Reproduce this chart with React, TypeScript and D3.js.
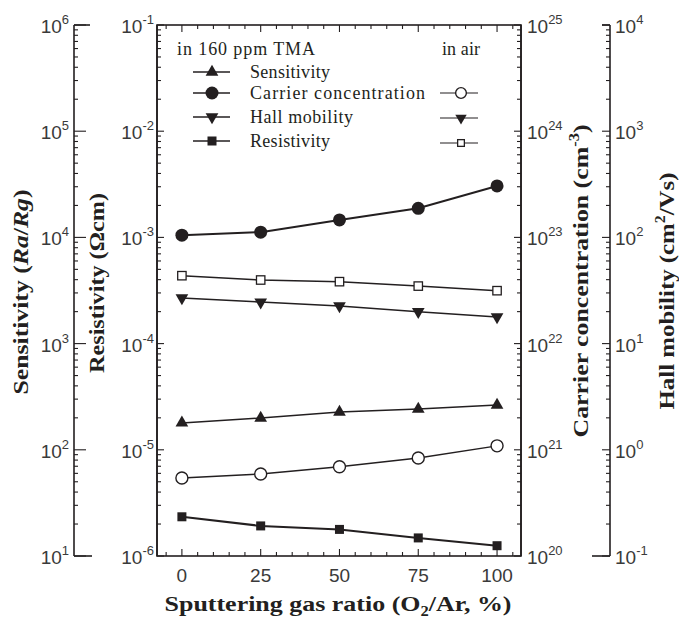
import React from 'react';
import * as d3 from 'd3';

// sputtering gas ratio O2/Ar (%)
const ratios = [0, 25, 50, 75, 100];
const xTickValues = [0, 25, 50, 75, 100];

// in 160 ppm TMA
const sensitivityTma = [179, 199, 227, 242, 264];
const carrierTma = [1.05e23, 1.12e23, 1.46e23, 1.88e23, 3.05e23];
const hallTma = [26.9, 24.6, 22.6, 20.0, 17.8];
const resistivityTma = [2.34e-6, 1.92e-6, 1.78e-6, 1.48e-6, 1.25e-6];

// in air
const carrierAir = [5.42e20, 5.92e20, 6.93e20, 8.37e20, 1.09e21];
const resistivityAir = [4.36e-4, 3.97e-4, 3.83e-4, 3.48e-4, 3.15e-4];

const legendTma = ['Sensitivity', 'Carrier concentration', 'Hall mobility', 'Resistivity'];
const legendWidths = [80, 175, 103, 80];

const W = 679;
const H = 618;
const box = {left: 157, right: 521, top: 25, bottom: 556};
const ink = '#231f20';
const serif = '"Liberation Serif", "Times New Roman", serif';
const sans = '"Liberation Sans", Arial, sans-serif';

const x = d3.scaleLinear().domain([-7.9, 107.6]).range([box.left, box.right]);
const ySens = d3.scaleLog().domain([1e1, 1e6]).range([box.bottom, box.top]);
const yRes = d3.scaleLog().domain([1e-6, 1e-1]).range([box.bottom, box.top]);
const yCar = d3.scaleLog().domain([1e20, 1e25]).range([box.bottom, box.top]);
const yHall = d3.scaleLog().domain([1e-1, 1e4]).range([box.bottom, box.top]);

const sym = (type: d3.SymbolType, size: number) => d3.symbol().type(type).size(size)() || '';

const marker = (kind: string, cx: number, cy: number, scale = 1, key?: any) => {
    switch (kind) {
        case 'up':
            return <path key={key} d={sym(d3.symbolTriangle, 70 * scale)} transform={`translate(${cx},${cy})`} fill={ink}/>;
        case 'down':
            return <path key={key} d={sym(d3.symbolTriangle, 70 * scale)} transform={`translate(${cx},${cy}) rotate(180)`} fill={ink}/>;
        case 'circle':
            return <circle key={key} cx={cx} cy={cy} r={6.5 * Math.sqrt(scale)} fill={ink}/>;
        case 'ocircle':
            return <circle key={key} cx={cx} cy={cy} r={6 * Math.sqrt(scale)} fill="#fff" stroke={ink} strokeWidth={1.4}/>;
        case 'square':
            return <rect key={key} x={cx - 4.5 * scale} y={cy - 4.5 * scale} width={9 * scale} height={9 * scale} fill={ink}/>;
        case 'osquare':
            return <rect key={key} x={cx - 4.2 * scale} y={cy - 4.2 * scale} width={8.4 * scale} height={8.4 * scale} fill="#fff" stroke={ink} strokeWidth={1.3}/>;
        default:
            return null;
    }
};

const series = [
    {values: carrierTma, scale: yCar, kind: 'circle', width: 2},
    {values: resistivityAir, scale: yRes, kind: 'osquare', width: 1.5},
    {values: hallTma, scale: yHall, kind: 'down', width: 1.5},
    {values: sensitivityTma, scale: ySens, kind: 'up', width: 1.5},
    {values: carrierAir, scale: yCar, kind: 'ocircle', width: 1.4},
    {values: resistivityTma, scale: yRes, kind: 'square', width: 2},
];

const isMajor = (v: number) => Math.abs(Math.log10(v) - Math.round(Math.log10(v))) < 1e-6;

// vertical log axis: ticks drawn from x0 in direction dir
function LogAxis({scale, x0, dir, major, minor, labelX, anchor, endCaps}: any) {
    const ticks: number[] = scale.ticks();
    return (
        <g>
            <line x1={x0} x2={x0} y1={box.top} y2={box.bottom} stroke={ink} strokeWidth={1.6}/>
            {ticks.map((t, i) => {
                const y = scale(t);
                const len = isMajor(t) ? major : minor;
                return <line key={i} x1={x0} x2={x0 + dir * len} y1={y} y2={y} stroke={ink} strokeWidth={1.1}/>;
            })}
            {endCaps && (
                <g>
                    <line x1={x0} x2={x0 + dir * endCaps[0]} y1={box.top} y2={box.top} stroke={ink} strokeWidth={1.6}/>
                    <line x1={x0} x2={x0 + dir * endCaps[1]} y1={box.bottom} y2={box.bottom} stroke={ink} strokeWidth={1.6}/>
                </g>
            )}
            {ticks.filter(isMajor).map((t, i) => {
                const y = scale(t);
                const e = Math.round(Math.log10(t));
                return (
                    <text key={i} x={labelX} y={y + 8} textAnchor={anchor} fontFamily={sans} fontSize={19} fill="#3a3a3a">
                        10<tspan dy={-9} fontSize={13}>{e}</tspan>
                    </text>
                );
            })}
        </g>
    );
}

export default function App() {
    const xMinor = d3.range(-5, 106, 5);
    const line = (vals: number[], scale: any) => d3.line<number>()
        .x((d, i) => x(ratios[i]))
        .y(d => scale(d))(vals) || '';
    return (
        <svg width={W} height={H} style={{position: 'absolute', left: 0, top: 0, background: '#fff'}}>
            {/* main frame */}
            <rect x={box.left} y={box.top} width={box.right - box.left} height={box.bottom - box.top}
                  fill="none" stroke={ink} strokeWidth={1.6}/>
            {xMinor.map(v => {
                const len = v % 25 === 0 ? 7 : 4;
                return (
                    <g key={v}>
                        <line x1={x(v)} x2={x(v)} y1={box.bottom} y2={box.bottom - len} stroke={ink} strokeWidth={1.1}/>
                        <line x1={x(v)} x2={x(v)} y1={box.top} y2={box.top + len} stroke={ink} strokeWidth={1.1}/>
                    </g>
                );
            })}
            {xTickValues.map(v => (
                <text key={v} x={x(v)} y={582} textAnchor="middle" fontFamily={sans} fontSize={19} fill="#3a3a3a">{v}</text>
            ))}

            <LogAxis scale={ySens} x0={74} dir={1} major={12} minor={4} labelX={69} anchor="end" endCaps={[16, 18]}/>
            <LogAxis scale={yRes} x0={box.left} dir={1} major={7} minor={4} labelX={154} anchor="end"/>
            <LogAxis scale={yCar} x0={box.right} dir={-1} major={7} minor={4} labelX={527} anchor="start"/>
            <LogAxis scale={yHall} x0={610} dir={-1} major={8} minor={4} labelX={615} anchor="start" endCaps={[8, 18]}/>

            {/* axis titles */}
            <text transform="translate(28,292) rotate(-90)" textAnchor="middle" fontFamily={serif} fontWeight="bold"
                  fontSize={22} fill={ink} textLength={205} lengthAdjust="spacingAndGlyphs">
                Sensitivity (<tspan fontStyle="italic">Ra</tspan>/<tspan fontStyle="italic">Rg</tspan>)
            </text>
            <text transform="translate(104,283) rotate(-90)" textAnchor="middle" fontFamily={serif} fontWeight="bold"
                  fontSize={22} fill={ink} textLength={180} lengthAdjust="spacingAndGlyphs">
                Resistivity (Ωcm)
            </text>
            <text transform="translate(588,281) rotate(-90)" textAnchor="middle" fontFamily={serif} fontWeight="bold"
                  fontSize={22} fill={ink} textLength={313} lengthAdjust="spacingAndGlyphs">
                Carrier concentration (cm<tspan dy={-9} fontSize={14}>-3</tspan><tspan dy={9}>)</tspan>
            </text>
            <text transform="translate(674,291) rotate(-90)" textAnchor="middle" fontFamily={serif} fontWeight="bold"
                  fontSize={22} fill={ink} textLength={237} lengthAdjust="spacingAndGlyphs">
                Hall mobility (cm<tspan dy={-9} fontSize={14}>2</tspan><tspan dy={9}>/Vs)</tspan>
            </text>
            <text x={338} y={611} textAnchor="middle" fontFamily={serif} fontWeight="bold" fontSize={22} fill={ink}
                  textLength={347} lengthAdjust="spacingAndGlyphs">
                Sputtering gas ratio (O<tspan dy={5} fontSize={14}>2</tspan><tspan dy={-5}>/Ar, %)</tspan>
            </text>

            {/* data */}
            {series.map((s, si) => (
                <g key={si}>
                    <path d={line(s.values, s.scale)} fill="none" stroke={ink} strokeWidth={s.width}/>
                    {s.values.map((v, i) => marker(s.kind, x(ratios[i]), s.scale(v), 1, i))}
                </g>
            ))}

            {/* legend */}
            <text x={177} y={55} fontFamily={serif} fontSize={18} fill={ink} textLength={138} lengthAdjust="spacing">in 160 ppm TMA</text>
            <text x={442} y={55} fontFamily={serif} fontSize={18} fill={ink} textLength={38} lengthAdjust="spacing">in air</text>
            {['up', 'circle', 'down', 'square'].map((k, i) => {
                const cy = [72, 93, 117, 141][i];
                return (
                    <g key={k}>
                        <line x1={193} x2={230} y1={cy} y2={cy} stroke={ink} strokeWidth={1.6}/>
                        {marker(k, 212, cy, 1)}
                        <text x={250} y={cy + 6} fontFamily={serif} fontSize={18} fill={ink}
                              textLength={legendWidths[i]} lengthAdjust="spacing">{legendTma[i]}</text>
                    </g>
                );
            })}
            {['ocircle', 'down', 'osquare'].map((k, i) => {
                const cy = [93, 118, 143][i];
                return (
                    <g key={k}>
                        <line x1={440} x2={478} y1={cy} y2={cy} stroke={ink} strokeWidth={1.2}/>
                        {marker(k, 461, cy, 0.8)}
                    </g>
                );
            })}
        </svg>
    );
}
